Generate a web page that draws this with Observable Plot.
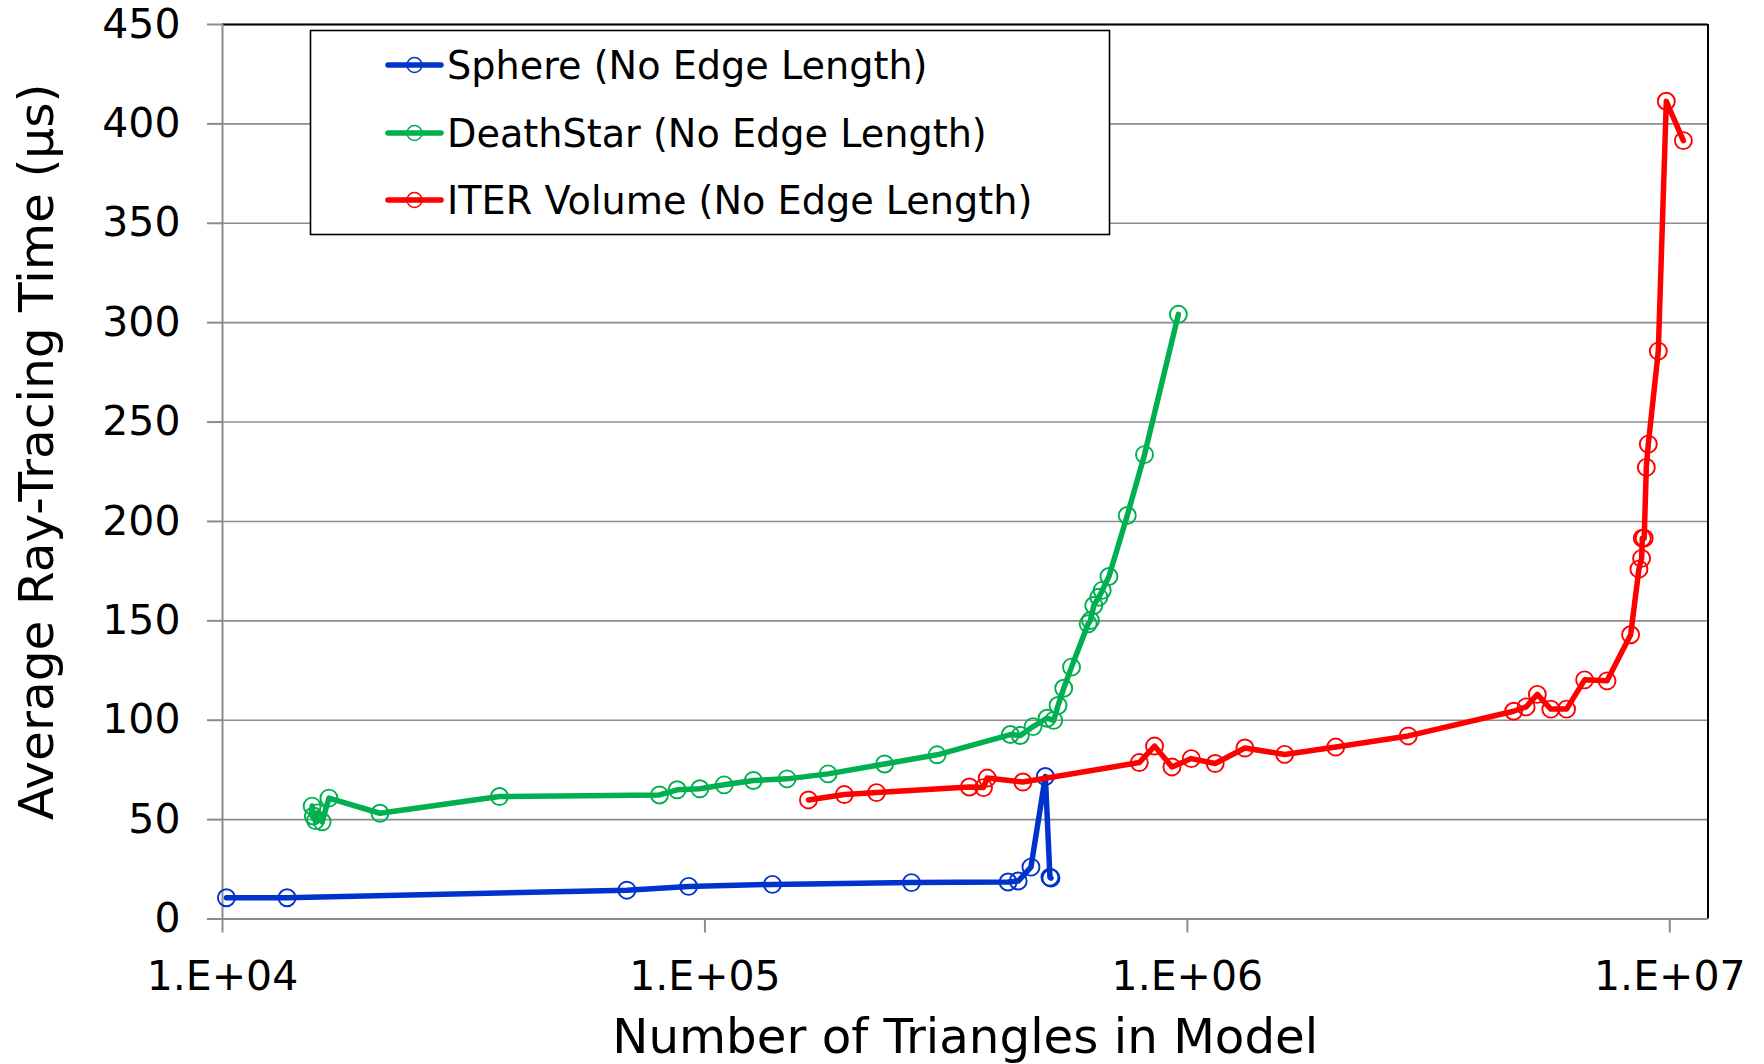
<!DOCTYPE html>
<html>
<head>
<meta charset="utf-8">
<script src="https://cdn.jsdelivr.net/npm/d3@7"></script>
<script src="https://cdn.jsdelivr.net/npm/@observablehq/plot@0.6"></script>
<style>
  html, body { margin: 0; padding: 0; background: white; }
  #chart { width: 1764px; height: 1064px; }
</style>
</head>
<body>
<div id="chart"></div>
<script>
// ---- Data ----
const seriesNames = ["Sphere (No Edge Length)", "DeathStar (No Edge Length)", "ITER Volume (No Edge Length)"];
const seriesColors = ["#0033cc", "#00b050", "#ff0000"];

const sphereN = [10190, 13610, 68900, 92500, 138000, 268000, 425000, 446000, 474000, 507700, 519000, 521500];
const sphereT = [10.7, 10.7, 14.5, 16.4, 17.4, 18.3, 18.6, 19.1, 26.1, 71.7, 21.0, 20.6];

const deathN = [15340, 15430, 15590, 15760, 16090, 16620, 21200, 37500, 80500, 87600, 97600, 109600, 126000, 148000,
                180000, 235700, 302900, 429600, 450500, 478800, 511900, 528300, 539500, 554300, 575300, 622800, 629700,
                639800, 655400, 666000, 687800, 750600, 815000, 958000];
const deathT = [56.8, 51.8, 49.5, 53.4, 48.9, 60.8, 53.2, 61.6, 62.4, 65.0, 65.5, 67.5, 69.7, 70.5,
                73.0, 78.0, 82.6, 92.8, 92.3, 96.8, 101.0, 99.9, 107.4, 116.1, 126.7, 148.5, 150.2,
                157.7, 161.9, 165.3, 172.3, 203.0, 233.6, 304.2];

const iterN = [163900, 194500, 226800, 353300, 378000, 384600, 456000, 795000, 855000, 929000, 1019000, 1142000,
               1316000, 1591000, 2030000, 2869000, 4746000, 5037000, 5314000, 5667000, 6110000, 6659000, 7413000,
               8295000, 8630000, 8740000, 8770000, 8850000, 8940000, 9025000, 9466000, 9835000, 10670000];
const iterT = [59.9, 62.6, 63.6, 66.4, 66.1, 70.9, 68.9, 78.7, 87.0, 76.5, 80.7, 78.2,
               86.0, 82.8, 86.5, 92.1, 104.5, 106.7, 113.0, 105.6, 105.6, 120.3, 119.8,
               143.0, 176.0, 181.4, 191.6, 191.6, 227.2, 238.9, 285.7, 411.4, 391.6];

const xTicks = [1e4, 1e5, 1e6, 1e7];
const yTicks = [0, 50, 100, 150, 200, 250, 300, 350, 400, 450];
const xDomain = [1e4, 1.2e7];
const yDomain = [0, 450];
const xTitle = "Number of Triangles in Model";
const yTitle = "Average Ray-Tracing Time (\u00b5s)";

// ---- Build table ----
const allN = [sphereN, deathN, iterN];
const allT = [sphereT, deathT, iterT];
const tables = seriesNames.map((name, i) => allN[i].map((n, j) => ({series: name, n, t: allT[i][j]})));

const fmt = d => "1.E+" + String(Math.round(Math.log10(d))).padStart(2, "0");

const seriesMarks = tables.flatMap((tbl, i) => [
  Plot.line(tbl, {x: "n", y: "t", stroke: seriesColors[i], strokeWidth: 5.5, strokeLinejoin: "round", strokeLinecap: "round"}),
  Plot.dot(tbl, {x: "n", y: "t", stroke: seriesColors[i], r: 8.5, strokeWidth: 1.9, fill: "none"})
]);

const chart = Plot.plot({
  width: 1764,
  height: 1064,
  marginLeft: 222,
  marginRight: 56.5,
  marginTop: 24,
  marginBottom: 145.5,
  style: {fontFamily: "'DejaVu Sans', Verdana, sans-serif", fontSize: "41px", color: "black", background: "white", overflow: "visible"},
  x: {type: "log", domain: xDomain},
  y: {domain: yDomain},
  marks: [
    Plot.gridY(yTicks, {stroke: "#8c8c8c", strokeOpacity: 1, strokeWidth: 1.6}),
    Plot.ruleY([yDomain[1]], {stroke: "black", strokeWidth: 2}),
    Plot.ruleX([xDomain[1]], {stroke: "black", strokeWidth: 2}),
    Plot.ruleX([xDomain[0]], {stroke: "#8c8c8c", strokeWidth: 2}),
    Plot.ruleY([yDomain[0]], {stroke: "#8c8c8c", strokeWidth: 2}),
    Plot.axisY(yTicks, {tickSize: 15, stroke: "#8c8c8c", strokeWidth: 2, fill: "none", label: null}),
    Plot.axisY(yTicks, {tickSize: 0, tickPadding: 42, fill: "black", fontSize: 41, label: null}),
    Plot.axisX(xTicks, {tickSize: 14, stroke: "#8c8c8c", strokeWidth: 2, fill: "none", label: null}),
    Plot.axisX(xTicks, {tickSize: 0, tickPadding: 41.5, tickFormat: fmt, fill: "black", fontSize: 41, label: null}),
    ...seriesMarks,
    Plot.text([xTitle], {frameAnchor: "bottom", dy: 118.5, fontSize: 48.3, fill: "black", lineAnchor: "middle", textAnchor: "middle"}),
    Plot.text([yTitle], {frameAnchor: "left", rotate: -90, dx: -185, dy: -20, fontSize: 48.6, fill: "black", lineAnchor: "middle", textAnchor: "middle"})
  ]
});

// ---- Legend (inside the plot area, as in the reference) ----
const svg = d3.select(chart);
const lg = svg.append("g").attr("font-family", "'DejaVu Sans', Verdana, sans-serif").attr("text-anchor", "start");
lg.append("rect").attr("x", 310.5).attr("y", 30.5).attr("width", 799).attr("height", 204)
  .attr("fill", "white").attr("stroke", "black").attr("stroke-width", 1.6);
const rowY = [65, 133, 200];
seriesNames.forEach((name, i) => {
  const g = lg.append("g").attr("transform", `translate(0,${rowY[i]})`);
  g.append("line").attr("x1", 388).attr("x2", 441).attr("y1", 0).attr("y2", 0)
    .attr("stroke", seriesColors[i]).attr("stroke-width", 5.5).attr("stroke-linecap", "round");
  g.append("circle").attr("cx", 414.5).attr("cy", 0).attr("r", 7.5)
    .attr("fill", "none").attr("stroke", seriesColors[i]).attr("stroke-width", 1.6);
  g.append("text").attr("x", 447).attr("y", 0).attr("dy", "0.36em").attr("text-anchor", "start")
    .attr("font-size", 38.2).attr("fill", "black").text(name);
});

document.getElementById("chart").appendChild(chart);
</script>
</body>
</html>
